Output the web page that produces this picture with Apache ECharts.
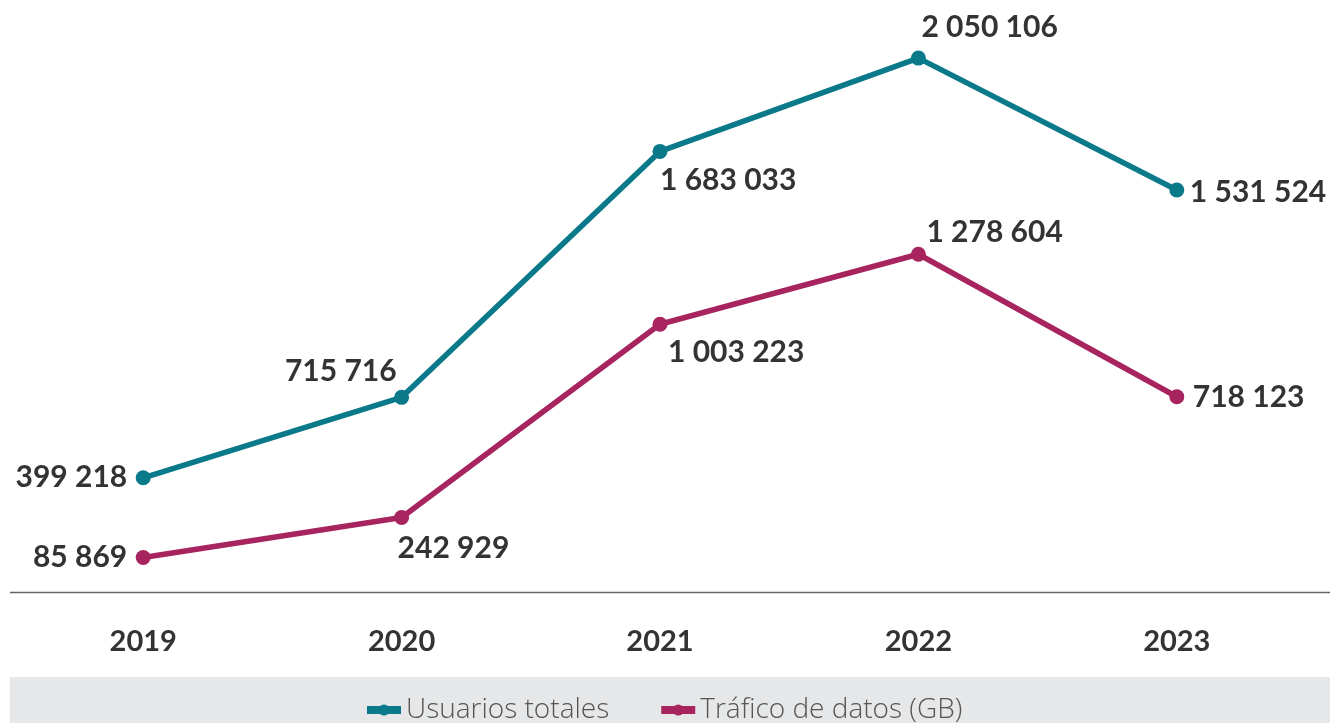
<!DOCTYPE html>
<html>
<head>
<meta charset="utf-8">
<script src="https://cdn.jsdelivr.net/npm/echarts@6/dist/echarts.min.js"></script>
<style>
  html, body { margin: 0; padding: 0; background: #fff; }
  #main { width: 1330px; height: 723px; }
</style>
</head>
<body>
<div id="main"></div>
<script>
// datos
var years = ['2019', '2020', '2021', '2022', '2023']
var usuarios = [399218, 715716, 1683033, 2050106, 1531524]
var trafico = [85869, 242929, 1003223, 1278604, 718123]
var seriesNames = ['Usuarios totales', 'Tráfico de datos (GB)']

// posición de cada etiqueta: [align, dx, dy]
var usuariosLabelPos = [['right', -16, 0], ['right', -5, -26], ['left', 0, 29], ['left', 3, -31], ['left', 13, 2]]
var traficoLabelPos = [['right', -16, 0], ['left', -4, 31], ['left', 8, 28], ['left', 8, -22], ['left', 16, 1]]

var teal = '#0a7a8b'
var magenta = '#a8245f'
var font = 'Lato, "Open Sans", sans-serif'

function fmt(v) {
  return String(v).replace(/\B(?=(\d{3})+(?!\d))/g, ' ')
}

function buildData(values, pos) {
  return values.map(function (v, i) {
    return {
      value: v,
      label: {
        align: pos[i][0],
        offset: [pos[i][1], pos[i][2]]
      }
    }
  })
}

function buildSeries(name, values, pos, color) {
  return {
    name: name,
    type: 'line',
    data: buildData(values, pos),
    symbol: 'circle',
    symbolSize: 15,
    lineStyle: { width: 5.5, color: color },
    itemStyle: { color: color },
    label: {
      show: true,
      position: 'inside',
      verticalAlign: 'middle',
      color: '#333',
      fontFamily: font,
      fontWeight: 'bold',
      fontSize: 30,
      formatter: function (p) { return fmt(p.value) }
    },
    emphasis: { disabled: true },
    animation: false
  }
}

var myChart = echarts.init(document.getElementById('main'))

var option = {
  animation: false,
  grid: { left: 14, right: 24, top: 20, bottom: 131 },
  graphic: [
    {
      type: 'line',
      shape: { x1: 10, y1: 592.5, x2: 1330, y2: 592.5 },
      style: { stroke: '#666', lineWidth: 1.5 },
      z: 1
    },
    {
      type: 'rect',
      shape: { x: 10, y: 677, width: 1320, height: 46 },
      style: { fill: '#e6e7e8' },
      z: -1
    }
  ],
  legend: {
    data: seriesNames,
    left: 358,
    top: 691,
    itemWidth: 34,
    itemHeight: 14,
    itemGap: 48,
    lineStyle: { width: 8 },
    textStyle: {
      color: '#555',
      fontFamily: '"Open Sans", Lato, sans-serif',
      fontWeight: 300,
      fontSize: 28,
      padding: [0, 0, 0, 0]
    }
  },
  xAxis: {
    type: 'category',
    data: years,
    axisLine: { show: false },
    axisTick: { show: false },
    axisLabel: {
      margin: 35,
      color: '#333',
      fontFamily: font,
      fontWeight: 'bold',
      fontSize: 29
    }
  },
  yAxis: {
    type: 'value',
    min: -50000,
    max: 2200000,
    show: false,
    splitLine: { show: false }
  },
  series: [
    buildSeries(seriesNames[0], usuarios, usuariosLabelPos, teal),
    buildSeries(seriesNames[1], trafico, traficoLabelPos, magenta)
  ]
}

myChart.setOption(option)
</script>
</body>
</html>
